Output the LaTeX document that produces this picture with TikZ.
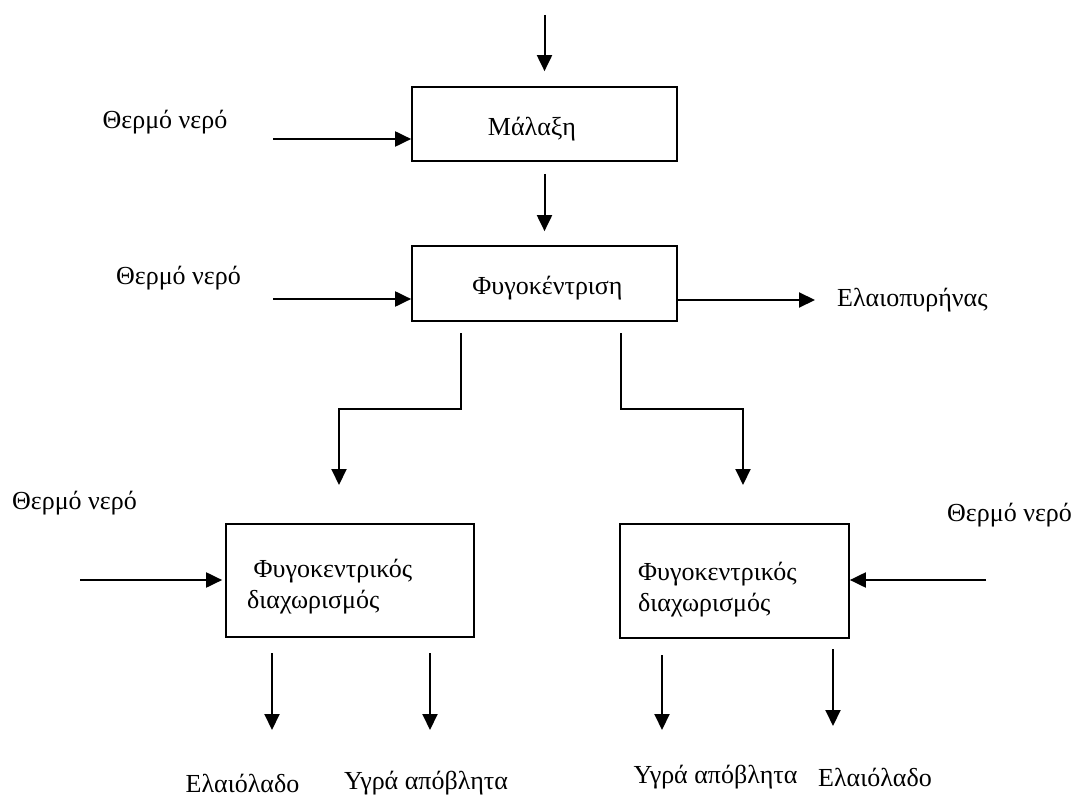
\documentclass[tikz,border=0pt]{standalone}
\usepackage{fontspec}
\setmainfont{Liberation Serif}
\usetikzlibrary{arrows.meta,calc}
\tikzset{
  procbox/.style={draw, line width=1.7pt, inner sep=0pt},
  flow/.style={-{Triangle[length=16pt,width=15pt]}, line width=2pt},
  lbl/.style={inner sep=0pt, font=\fontsize{26}{31}\selectfont},
  inlbl/.style={inner sep=0pt, align=left, font=\fontsize{26}{31}\selectfont}
}
\begin{document}
\begin{tikzpicture}[x=1pt,y=-1pt]
\useasboundingbox (0,0) rectangle (1086,799);
% boxes
\node[procbox, minimum width=265pt, minimum height=74pt] (mal) at (544.5,124) {};
\node[procbox, minimum width=265pt, minimum height=75pt] (fyg) at (544.5,283.5) {};
\node[procbox, minimum width=248pt, minimum height=113pt] (sepL) at (350,580.5) {};
\node[procbox, minimum width=229pt, minimum height=114pt] (sepR) at (734.5,581) {};
% box texts
\node[lbl] (malT) at (532,129) {Μάλαξη};
\node[lbl] (fygT) at (547.5,288) {Φυγοκέντριση};
\node[inlbl, anchor=north west] (sepLT) at (247,559) {\ Φυγοκεντρικός\\διαχωρισμός};
\node[inlbl, anchor=north west] (sepRT) at (638,562) {Φυγοκεντρικός\\διαχωρισμός};
% outside labels
\node[lbl] (w1) at (165,122) {Θερμό νερό};
\node[lbl] (w2) at (178.5,278) {Θερμό νερό};
\node[lbl] (w3) at (74.5,503) {Θερμό νερό};
\node[lbl, anchor=west] (w4) at (947,515) {Θερμό νερό};
\node[lbl, anchor=west] (pyr) at (837,300) {Ελαιοπυρήνας};
\node[lbl] (o1) at (242.5,783) {Ελαιόλαδο};
\node[lbl] (y1) at (426,783) {Υγρά απόβλητα};
\node[lbl] (y2) at (715.5,777) {Υγρά απόβλητα};
\node[lbl, anchor=west] (o2) at (818,777) {Ελαιόλαδο};
% free ends
\coordinate (top) at (544.5,15);
\coordinate (a1) at (273,139);
\coordinate (a2) at (273,299);
\coordinate (a3) at (80,580);
\coordinate (a4) at (986,580);
\coordinate (bL) at (461,333);
\coordinate (bLm) at (461,409);
\coordinate (bLe) at (339,485);
\coordinate (bR) at (621,333);
\coordinate (bRm) at (621,409);
\coordinate (bRe) at (743,485);
\coordinate (d1s) at (272,653);
\coordinate (d1e) at (272,730);
\coordinate (d2s) at (430,653);
\coordinate (d2e) at (430,730);
\coordinate (d3s) at (662,655);
\coordinate (d3e) at (662,730);
\coordinate (d4s) at (833,649);
\coordinate (d4e) at (833,726);
% connectors
\draw[flow, shorten >=15pt] (top) -- (mal.north);
\draw[flow, shorten <=12pt, shorten >=14pt] (mal.south) -- (fyg.north);
\draw[flow] (a1) -- (a1 -| mal.west);
\draw[flow] (a2) -- (a2 -| fyg.west);
\draw[flow, shorten >=22pt] (fyg.east |- pyr.west) -- (pyr.west);
\draw[flow] (bL) -- (bLm) -| (bLe);
\draw[flow] (bR) -- (bRm) -| (bRe);
\draw[flow, shorten >=3pt] (a3) -- (a3 -| sepL.west);
\draw[flow] (a4) -- (a4 -| sepR.east);
\draw[flow] (d1s) -- (d1e);
\draw[flow] (d2s) -- (d2e);
\draw[flow] (d3s) -- (d3e);
\draw[flow] (d4s) -- (d4e);
\end{tikzpicture}
\end{document}
